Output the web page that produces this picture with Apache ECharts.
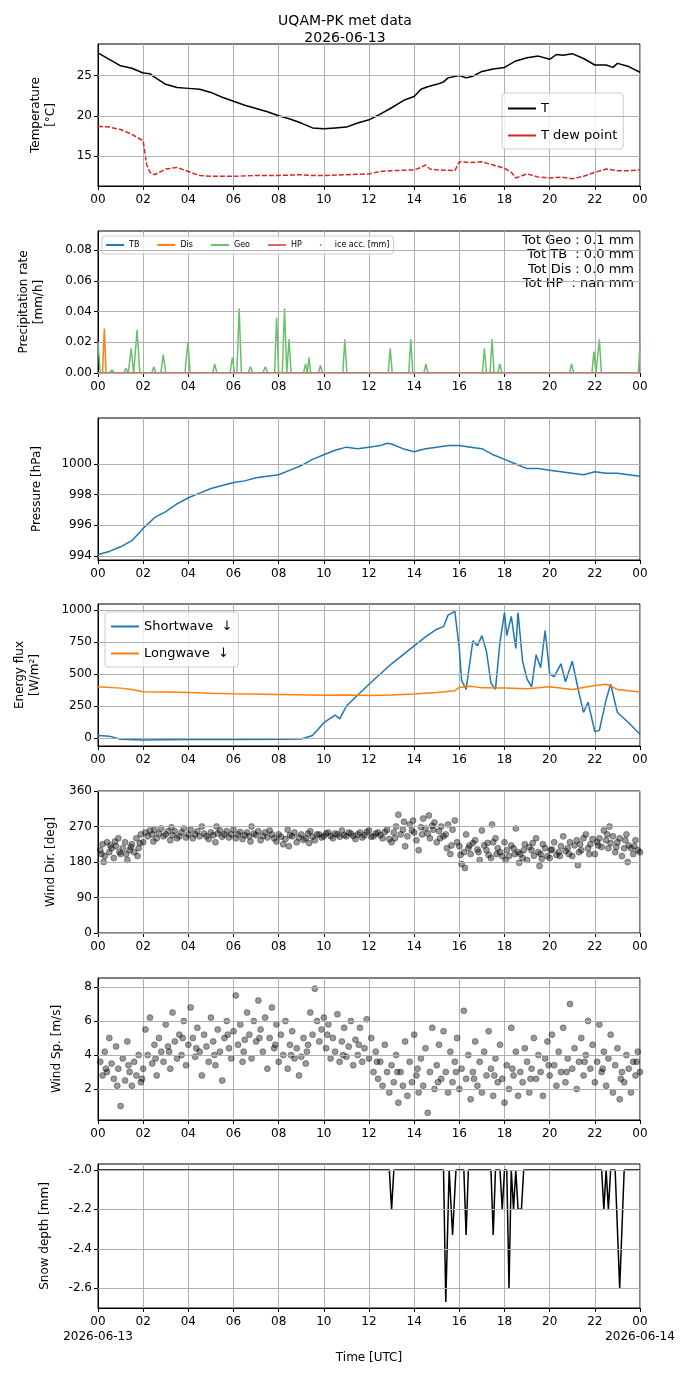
<!DOCTYPE html>
<html lang="en">
<head>
<meta charset="UTF-8">
<title>UQAM-PK met data</title>
<script src="https://cdn.jsdelivr.net/npm/echarts@6/dist/echarts.min.js"></script>
<style>
body{margin:0;padding:0;background:#fff}
#main{width:690px;height:1377px}
</style>
</head>
<body>
<div id="main"></div>
<script>
// ---- data (hours UTC since 2026-06-13 00:00) ----
var tempT = [[0,27.8],[0.5,27.0],[1,26.2],[1.5,25.9],[2,25.3],[2.3,25.2],[2.5,24.8],[3,23.9],[3.5,23.5],[4,23.4],[4.5,23.3],[5,22.9],[5.5,22.3],[6,21.8],[6.5,21.3],[7,20.9],[7.5,20.5],[8,20.0],[8.5,19.6],[9,19.1],[9.5,18.5],[10,18.4],[10.5,18.5],[11,18.6],[11.5,19.1],[12,19.5],[12.5,20.2],[13,21.0],[13.3,21.5],[13.6,22.0],[14,22.4],[14.3,23.3],[14.6,23.6],[15,23.9],[15.3,24.2],[15.5,24.7],[16,25.0],[16.3,24.7],[16.6,24.9],[17,25.5],[17.5,25.8],[18,26.0],[18.5,26.8],[19,27.2],[19.5,27.4],[20,27.0],[20.3,27.6],[20.6,27.5],[21,27.7],[21.5,27.1],[22,26.3],[22.5,26.3],[22.8,26.0],[23,26.5],[23.5,26.1],[24,25.4]];
var tempTd = [[0,18.7],[0.5,18.6],[1,18.3],[1.5,17.7],[2,16.9],[2.15,14.0],[2.3,13.0],[2.5,12.7],[3,13.4],[3.5,13.6],[4,13.1],[4.5,12.6],[5,12.5],[6,12.5],[7,12.6],[8,12.6],[9,12.7],[9.5,12.6],[10,12.6],[11,12.7],[12,12.8],[12.5,13.1],[13,13.2],[14,13.3],[14.3,13.6],[14.5,13.9],[14.7,13.4],[15,13.3],[15.8,13.2],[16,14.3],[16.5,14.2],[17,14.3],[17.5,13.9],[18,13.5],[18.3,13.0],[18.5,12.3],[19,12.8],[19.5,12.4],[20,12.3],[20.5,12.4],[21,12.2],[21.5,12.5],[22,13.0],[22.5,13.4],[23,13.2],[23.5,13.2],[24,13.3]];

var precipGeo = [[0,0.020],[0.1,0],[0.5,0],[0.62,0.002],[0.72,0],[1.14,0],[1.24,0.003],[1.34,0],[1.40,0],[1.47,0.016],[1.58,0],[1.64,0],[1.73,0.028],[1.85,0],[2.38,0],[2.47,0.004],[2.56,0],[2.78,0],[2.89,0.012],[3.0,0],[3.85,0],[3.98,0.020],[4.08,0],[5.08,0],[5.17,0.006],[5.26,0],[5.85,0],[5.95,0.010],[6.05,0],[6.15,0],[6.25,0.042],[6.35,0],[6.65,0],[6.75,0.004],[6.85,0],[7.3,0],[7.41,0.004],[7.52,0],[7.82,0],[7.91,0.036],[8.0,0],[8.16,0],[8.26,0.042],[8.36,0],[8.4,0],[8.46,0.022],[8.55,0],[9.1,0],[9.19,0.006],[9.27,0],[9.3,0],[9.34,0.010],[9.42,0],[9.76,0],[9.85,0.005],[9.94,0],[10.84,0],[10.93,0.022],[11.02,0],[12.85,0],[12.94,0.016],[13.03,0],[13.76,0],[13.85,0.022],[13.94,0],[14.43,0],[14.52,0.006],[14.61,0],[17.02,0],[17.11,0.016],[17.2,0],[17.36,0],[17.45,0.022],[17.54,0],[17.7,0],[17.79,0.006],[17.88,0],[19.38,0],[19.46,0.001],[19.55,0],[20.88,0],[20.97,0.006],[21.06,0],[21.87,0],[21.96,0.014],[22.05,0],[22.11,0],[22.2,0.022],[22.29,0],[23.93,0],[24,0.020]];
var precipDis = [[0,0],[0.2,0],[0.28,0.029],[0.36,0],[24,0]];
var precipTB = [[0,0],[24,0]];
var precipHP = [[0,0],[24,0]];

var pressure = [[0,994.1],[0.5,994.3],[1,994.6],[1.5,995.0],[2,995.8],[2.5,996.5],[3,996.9],[3.5,997.4],[4,997.8],[4.5,998.1],[5,998.4],[5.5,998.6],[6,998.8],[6.5,998.9],[7,999.1],[7.5,999.2],[8,999.3],[8.5,999.6],[9,999.9],[9.5,1000.3],[10,1000.6],[10.5,1000.9],[11,1001.1],[11.5,1001.0],[12,1001.1],[12.5,1001.2],[12.8,1001.35],[13,1001.3],[13.5,1001.0],[14,1000.8],[14.5,1001.0],[15,1001.1],[15.5,1001.2],[16,1001.2],[16.5,1001.1],[17,1001.0],[17.5,1000.6],[18,1000.3],[18.5,1000.0],[19,999.7],[19.5,999.7],[20,999.6],[20.5,999.5],[21,999.4],[21.5,999.3],[22,999.5],[22.5,999.4],[23,999.4],[23.5,999.3],[24,999.2]];

var shortwave = [[0,20],[0.5,15],[1,-10],[2,-15],[4,-12],[6,-12],[8,-10],[9,-8],[9.5,20],[10,120],[10.5,180],[10.7,150],[11,250],[12,420],[13,580],[14,720],[14.5,790],[15,850],[15.3,870],[15.5,960],[15.8,990],[16,700],[16.1,450],[16.3,380],[16.6,760],[16.8,720],[17,800],[17.2,680],[17.4,430],[17.6,380],[17.8,750],[18,980],[18.1,800],[18.3,950],[18.5,700],[18.6,980],[18.8,600],[19,460],[19.2,400],[19.4,650],[19.6,550],[19.8,840],[20,500],[20.2,480],[20.5,580],[20.7,440],[21,600],[21.3,350],[21.5,200],[21.7,280],[22,50],[22.2,60],[22.5,300],[22.7,420],[23,200],[23.5,120],[24,30]];
var longwave = [[0,400],[1,390],[1.5,380],[2,362],[3,360],[4,355],[5,350],[6,346],[8,340],[10,335],[11,336],[12,332],[13,336],[14,345],[15,356],[15.8,370],[16,395],[16.5,405],[17,392],[18,390],[19,385],[20,400],[21,380],[22,410],[22.5,420],[23,380],[24,360]];

var windDir = [[0.1,210],[0.2,225],[0.3,195],[0.4,230],[0.5,205],[0.6,215],[0.7,190],[0.8,220],[0.9,240],[1.0,200],[1.1,215],[1.2,230],[1.3,185],[1.4,210],[1.5,225],[1.6,205],[1.7,240],[1.8,215],[1.9,250],[2.0,230],[2.1,255],[2.2,245],[2.3,260],[2.4,250],[2.5,262],[2.6,240],[2.7,252],[2.8,265],[2.9,245],[3.0,250],[3.1,258],[3.2,235],[3.3,248],[3.4,258],[3.5,240],[3.6,245],[3.7,255],[3.8,265],[3.9,242],[4.0,250],[4.1,262],[4.2,240],[4.3,250],[4.4,258],[4.5,245],[4.6,270],[4.7,252],[4.8,245],[4.9,238],[5.0,255],[5.1,248],[5.2,230],[5.3,252],[5.4,260],[5.5,244],[5.6,250],[5.7,258],[5.8,242],[5.9,250],[6.0,262],[6.1,240],[6.2,250],[6.3,256],[6.4,238],[6.5,248],[6.6,255],[6.7,245],[6.8,270],[6.9,252],[7.0,248],[7.1,258],[7.2,235],[7.3,246],[7.4,255],[7.5,242],[7.6,260],[7.7,250],[7.8,240],[7.9,232],[8.0,250],[8.1,244],[8.2,225],[8.3,238],[8.4,262],[8.5,248],[8.6,245],[8.7,255],[8.8,230],[8.9,242],[9.0,250],[9.1,236],[9.2,240],[9.3,252],[9.4,258],[9.5,244],[9.6,235],[9.7,250],[9.8,250],[9.9,242],[10.0,245],[10.1,252],[10.2,255],[10.3,246],[10.4,240],[10.5,252],[10.6,250],[10.7,244],[10.8,260],[10.9,248],[11.0,245],[11.1,255],[11.2,252],[11.3,246],[11.4,238],[11.5,250],[11.6,255],[11.7,242],[11.8,248],[11.9,256],[12.0,260],[12.1,244],[12.2,245],[12.3,252],[12.4,255],[12.5,248],[12.6,240],[12.7,256],[12.8,262],[12.9,238],[13.0,230],[13.1,255],[13.2,270],[13.3,300],[13.4,250],[13.5,262],[13.6,220],[13.7,245],[13.8,275],[13.9,260],[14.0,255],[14.1,235],[14.2,210],[14.3,268],[14.4,290],[14.5,265],[14.6,252],[14.7,240],[14.8,272],[14.9,280],[15.0,230],[15.1,258],[15.2,270],[15.3,245],[15.4,250],[15.5,275],[15.6,200],[15.7,262],[15.8,285],[15.9,230],[16.0,220],[16.1,175],[16.2,205],[16.3,250],[16.4,215],[16.5,200],[16.6,228],[16.7,235],[16.8,212],[16.9,185],[17.0,260],[17.1,222],[17.2,210],[17.3,198],[17.4,190],[17.5,230],[17.6,240],[17.7,215],[17.8,205],[17.9,195],[18.0,230],[18.1,210],[18.2,195],[18.3,222],[18.4,215],[18.5,265],[18.6,205],[18.7,200],[18.8,190],[18.9,225],[19.0,185],[19.1,218],[19.2,210],[19.3,196],[19.4,240],[19.5,205],[19.6,200],[19.7,225],[19.8,215],[19.9,195],[20.0,190],[20.1,212],[20.2,230],[20.3,198],[20.4,205],[20.5,220],[20.6,245],[20.7,208],[20.8,215],[20.9,230],[21.0,195],[21.1,222],[21.2,235],[21.3,205],[21.4,210],[21.5,240],[21.6,250],[21.7,215],[21.8,225],[21.9,238],[22.0,200],[22.1,230],[22.2,240],[22.3,218],[22.4,260],[22.5,235],[22.6,215],[22.7,228],[22.8,245],[22.9,205],[23.0,230],[23.1,240],[23.2,195],[23.3,215],[23.4,250],[23.5,222],[23.6,215],[23.7,200],[23.8,235],[23.9,210],[24.0,205],
  [0.25,180],[0.75,232],[1.25,200],[1.75,195],[2.45,232],[3.25,268],[5.25,270],[6.75,232],[8.45,220],[9.35,228],[13.55,282],[14.65,298],[15.45,215],[16.25,165],[17.45,275],[18.65,178],[19.55,170],[21.25,172],[22.65,270],[23.45,180],
  [0.15,200],[0.55,222],[0.95,205],[1.45,218],[1.85,228],[13.15,240],[13.95,285],[14.35,250],[14.85,262],[15.15,240],[15.65,222],[16.05,198],[16.45,222],[16.85,205],[17.25,228],[17.65,200],[18.05,185],[18.45,200],[18.85,210],[19.25,228],[19.65,188],[20.05,210],[20.45,195],[20.85,200],[21.35,225],[21.75,200],[22.15,222],[22.55,250],[22.95,218],[23.35,235],[23.75,220]];

var windSp = [[0.1,3.6],[0.2,2.8],[0.3,4.2],[0.4,3.0],[0.5,5.0],[0.6,3.5],[0.7,2.6],[0.8,4.5],[0.9,3.2],[1.0,1.0],[1.1,3.8],[1.2,2.5],[1.3,4.8],[1.4,3.0],[1.5,2.2],[1.6,3.6],[1.7,2.8],[1.8,4.0],[1.9,2.4],[2.0,3.2],[2.1,5.5],[2.2,4.0],[2.3,6.2],[2.4,3.5],[2.5,4.6],[2.6,2.8],[2.7,5.0],[2.8,4.2],[2.9,3.6],[3.0,5.8],[3.1,4.5],[3.2,3.2],[3.3,6.5],[3.4,4.8],[3.5,3.8],[3.6,5.2],[3.7,4.0],[3.8,6.0],[3.9,3.4],[4.0,4.6],[4.1,6.8],[4.2,5.0],[4.3,3.9],[4.4,5.6],[4.5,4.2],[4.6,2.8],[4.7,5.2],[4.8,4.5],[4.9,3.6],[5.0,6.2],[5.1,4.8],[5.2,3.4],[5.3,5.5],[5.4,4.2],[5.5,2.5],[5.6,5.0],[5.7,6.0],[5.8,4.4],[5.9,3.8],[6.0,5.4],[6.1,7.5],[6.2,4.6],[6.3,5.8],[6.4,3.6],[6.5,4.9],[6.6,6.5],[6.7,5.2],[6.8,3.8],[6.9,6.0],[7.0,4.8],[7.1,7.2],[7.2,5.5],[7.3,4.2],[7.4,6.2],[7.5,3.2],[7.6,5.0],[7.7,6.8],[7.8,4.4],[7.9,5.8],[8.0,3.6],[8.1,5.2],[8.2,4.0],[8.3,6.0],[8.4,3.2],[8.5,4.6],[8.6,5.4],[8.7,3.8],[8.8,4.4],[8.9,2.8],[9.0,3.9],[9.1,5.0],[9.2,3.5],[9.3,4.6],[9.4,6.5],[9.5,5.2],[9.6,7.9],[9.7,6.0],[9.8,4.8],[9.9,5.5],[10.0,6.2],[10.1,4.4],[10.2,5.8],[10.3,3.8],[10.4,5.0],[10.5,4.2],[10.6,6.4],[10.7,3.6],[10.8,4.8],[10.9,5.6],[11.0,3.9],[11.1,4.5],[11.2,6.0],[11.3,3.4],[11.4,4.9],[11.5,4.0],[11.6,5.6],[11.7,3.6],[11.8,4.4],[11.9,6.1],[12.0,3.8],[12.1,5.0],[12.2,3.0],[12.3,4.2],[12.4,2.6],[12.5,3.6],[12.6,2.2],[12.7,4.6],[12.8,3.0],[12.9,1.8],[13.0,3.4],[13.1,2.4],[13.2,4.0],[13.3,1.2],[13.4,3.0],[13.5,2.2],[13.6,4.8],[13.7,1.6],[13.8,3.6],[13.9,2.4],[14.0,5.2],[14.1,2.8],[14.2,1.8],[14.3,3.8],[14.4,2.2],[14.5,4.4],[14.6,0.6],[14.7,3.0],[14.8,5.6],[14.9,2.0],[15.0,3.4],[15.1,4.6],[15.2,2.6],[15.3,5.4],[15.4,3.0],[15.5,1.8],[15.6,4.2],[15.7,2.4],[15.8,3.6],[15.9,5.0],[16.0,2.0],[16.1,3.2],[16.2,6.6],[16.3,2.6],[16.4,4.0],[16.5,1.4],[16.6,3.0],[16.7,4.8],[16.8,2.2],[16.9,3.6],[17.0,1.8],[17.1,4.2],[17.2,2.8],[17.3,5.4],[17.4,3.2],[17.5,1.6],[17.6,3.8],[17.7,2.4],[17.8,4.6],[17.9,2.6],[18.0,1.2],[18.1,3.4],[18.2,2.0],[18.3,5.6],[18.4,2.8],[18.5,4.2],[18.6,1.6],[18.7,3.0],[18.8,2.4],[18.9,4.4],[19.0,3.6],[19.1,1.8],[19.2,3.2],[19.3,5.0],[19.4,2.6],[19.5,4.0],[19.6,3.0],[19.7,1.6],[19.8,3.8],[19.9,4.8],[20.0,2.8],[20.1,5.2],[20.2,3.4],[20.3,2.2],[20.4,4.2],[20.5,3.0],[20.6,5.6],[20.7,2.4],[20.8,3.8],[20.9,7.0],[21.0,3.2],[21.1,4.4],[21.2,2.0],[21.3,3.6],[21.4,5.0],[21.5,2.8],[21.6,4.0],[21.7,6.0],[21.8,3.2],[21.9,4.6],[22.0,2.4],[22.1,3.6],[22.2,5.8],[22.3,3.0],[22.4,4.2],[22.5,2.2],[22.6,3.8],[22.7,5.2],[22.8,1.8],[22.9,3.4],[23.0,4.4],[23.1,1.4],[23.2,3.0],[23.3,2.4],[23.4,4.0],[23.5,3.2],[23.6,1.8],[23.7,3.6],[23.8,2.8],[23.9,4.2],[24.0,3.0],
  [0.35,3.2],[0.85,2.2],[1.35,3.4],[1.95,2.6],[2.55,3.8],[3.15,4.2],[3.75,5.0],[4.35,4.4],[5.15,4.0],[5.75,5.2],[6.45,4.2],[7.15,5.0],[7.85,4.6],[8.55,4.0],[9.25,4.2],[10.15,5.2],[10.85,4.0],[11.55,4.6],[12.35,3.6],[13.25,3.0],[14.15,3.2],[15.05,2.4],[15.85,3.0],[16.65,2.6],[17.55,2.8],[18.35,3.2],[19.15,2.6],[19.95,3.4],[20.75,3.0],[21.55,3.6],[22.35,3.2],[23.15,2.6],[23.85,3.6]];

var snowDepth = [[0,-2.0],[12.9,-2.0],[13.0,-2.2],[13.1,-2.0],[15.3,-2.0],[15.4,-2.67],[15.55,-2.0],[15.7,-2.33],[15.85,-2.0],[16.2,-2.0],[16.3,-2.33],[16.4,-2.0],[17.4,-2.0],[17.5,-2.33],[17.6,-2.0],[17.8,-2.0],[17.9,-2.2],[18.0,-2.0],[18.1,-2.0],[18.2,-2.6],[18.3,-2.0],[18.4,-2.2],[18.5,-2.0],[18.6,-2.2],[18.75,-2.2],[18.85,-2.0],[22.3,-2.0],[22.4,-2.2],[22.5,-2.0],[22.6,-2.2],[22.7,-2.0],[22.9,-2.0],[23.1,-2.6],[23.3,-2.0],[24,-2.0]];

var totText = ['Tot Geo : 0.1 mm', 'Tot TB  : 0.0 mm', 'Tot Dis : 0.0 mm', 'Tot HP  : nan mm'];

var yTicks = [[15, 20, 25], [0, 0.02, 0.04, 0.06, 0.08], [994, 996, 998, 1000], [0, 250, 500, 750, 1000],
              [0, 90, 180, 270, 360], [2, 4, 6, 8], [-2.6, -2.4, -2.2, -2.0]];

// ---- layout ----
var FONT = 'DejaVu Sans';
var tops = [44, 231, 418, 604, 791, 978, 1164];
var heights = [142, 142, 142, 142, 142, 142, 144];
var pad = function (v) { var h = Math.round(v) % 24; return (h < 10 ? '0' : '') + h; };

var grids = tops.map(function (t, i) {
    return {left: 98, width: 542, top: t, height: heights[i], show: true,
            borderColor: '#000', borderWidth: 1, backgroundColor: 'transparent'};
});

var xAxes = tops.map(function (t, i) {
    return {
        type: 'value', gridIndex: i, min: 0, max: 24, interval: 2,
        name: i === 6 ? 'Time [UTC]' : '', nameLocation: 'middle', nameGap: 44,
        nameTextStyle: {color: '#000', fontFamily: FONT, fontSize: 12},
        axisLine: {show: true, onZero: false, lineStyle: {color: '#000'}},
        axisTick: {show: true, length: 4, lineStyle: {color: '#000'}},
        axisLabel: {color: '#000', fontFamily: FONT, fontSize: 12, margin: 6, lineHeight: 15,
            formatter: function (v) {
                if (i === 6 && v === 0) return '00\n2026-06-13';
                if (i === 6 && v === 24) return '00\n2026-06-14';
                return pad(v);
            }},
        splitLine: {show: true, lineStyle: {color: '#b0b0b0', width: 1}}
    };
});

function yAx(i, min, max, name, fmt, gap) {
    return {
        type: 'value', gridIndex: i, min: min, max: max,
        name: name, nameLocation: 'middle', nameGap: gap, nameRotate: 90,
        nameTextStyle: {color: '#000', fontFamily: FONT, fontSize: 12, lineHeight: 15},
        axisLine: {show: true, lineStyle: {color: '#000'}},
        axisTick: {show: true, length: 4, customValues: yTicks[i], lineStyle: {color: '#000'}},
        axisLabel: {color: '#000', fontFamily: FONT, fontSize: 12, margin: 6,
            customValues: yTicks[i], formatter: fmt},
        splitLine: {show: false}
    };
}
var f0 = function (v) { return v.toFixed(0); };
var yAxes = [
    yAx(0, 11.3, 28.9, 'Temperature\n[°C]', f0, 40),
    yAx(1, 0, 0.0925, 'Precipitation rate\n[mm/h]', function (v) { return v.toFixed(2); }, 52),
    yAx(2, 993.74, 1003.0, 'Pressure [hPa]', f0, 54),
    yAx(3, -62, 1047, 'Energy flux\n[W/m²]', f0, 56),
    yAx(4, 0, 360, 'Wind Dir. [deg]', f0, 40),
    yAx(5, 0.18, 8.53, 'Wind Sp. [m/s]', f0, 34),
    yAx(6, -2.70, -1.97, 'Snow depth [mm]', function (v) { return v.toFixed(1); }, 46)
];

function line(name, idx, data, color, extra) {
    var s = {name: name, type: 'line', xAxisIndex: idx, yAxisIndex: idx, data: data,
             showSymbol: false, symbol: 'none', animation: false,
             lineStyle: {color: color, width: 1.5}, itemStyle: {color: color}};
    for (var k in extra) s[k] = extra[k];
    return s;
}
function scatter(idx, data) {
    return {type: 'scatter', xAxisIndex: idx, yAxisIndex: idx, data: data, symbolSize: 6, z: 3,
            animation: false, itemStyle: {color: 'rgba(0,0,0,0.5)', borderColor: 'rgba(0,0,0,0.7)', borderWidth: 0.6}};
}
// horizontal grid lines at the tick values, behind the data
var gridSeries = yTicks.map(function (ticks, i) {
    return {type: 'line', xAxisIndex: i, yAxisIndex: i, data: [], silent: true, z: 1,
            markLine: {silent: true, symbol: 'none', label: {show: false}, animation: false,
                       lineStyle: {color: '#b0b0b0', width: 1, type: 'solid'},
                       data: ticks.map(function (v) { return {yAxis: v}; })}};
});

var series = gridSeries.concat([
    line('T', 0, tempT, '#000'),
    line('T dew point', 0, tempTd, '#d62728', {lineStyle: {color: '#d62728', width: 1.5, type: [5, 2]}}),
    line('TB', 1, precipTB, '#1f77b4'),
    line('Dis', 1, precipDis, '#ff7f0e'),
    line('Geo', 1, precipGeo, '#6abf6a'),
    line('HP', 1, precipHP, '#e06666'),
    {name: 'ice acc. [mm]', type: 'scatter', xAxisIndex: 1, yAxisIndex: 1, data: [], itemStyle: {color: '#9467bd'}},
    line('Pressure', 2, pressure, '#1f77b4'),
    line('Shortwave  ↓', 3, shortwave, '#1f77b4'),
    line('Longwave  ↓', 3, longwave, '#ff7f0e'),
    scatter(4, windDir),
    scatter(5, windSp),
    line('Snow', 6, snowDepth, '#000')
]);

var legendBase = {backgroundColor: 'rgba(255,255,255,0.8)', borderColor: '#ccc', borderWidth: 1,
                  borderRadius: 3, textStyle: {color: '#000', fontFamily: FONT}};
function legend(o) { var r = {}; for (var k in legendBase) r[k] = legendBase[k]; for (var j in o) r[j] = o[j]; return r; }
function lineItems(names) { return names.map(function (n) { return {name: n, icon: 'rect'}; }); }

var option = {
    backgroundColor: '#fff',
    animation: false,
    title: {text: 'UQAM-PK met data\n2026-06-13', left: 'center', top: 8,
            textStyle: {fontFamily: FONT, fontSize: 14, fontWeight: 'normal', color: '#000', lineHeight: 17}},
    grid: grids, xAxis: xAxes, yAxis: yAxes, series: series,
    legend: [
        legend({data: lineItems(['T', 'T dew point']), orient: 'vertical', left: 502, top: 93, itemWidth: 28, itemHeight: 2,
                itemGap: 14, padding: [9, 6, 7, 6], textStyle: {fontSize: 13, color: '#000', fontFamily: FONT}}),
        legend({data: lineItems(['TB', 'Dis', 'Geo', 'HP']).concat([{name: 'ice acc. [mm]', icon: 'circle'}]),
                orient: 'horizontal', left: 102, top: 236,
                itemWidth: 18, itemHeight: 2, itemGap: 18, padding: [5, 4, 5, 4],
                textStyle: {fontSize: 8, color: '#000', fontFamily: FONT}}),
        legend({data: lineItems(['Shortwave  ↓', 'Longwave  ↓']), orient: 'vertical', left: 105, top: 612, itemWidth: 28, itemHeight: 2,
                itemGap: 14, padding: [8, 6, 7, 6], textStyle: {fontSize: 13, color: '#000', fontFamily: FONT}})
    ],
    graphic: totText.map(function (t, i) {
        return {type: 'text', right: 56, top: 234 + i * 14.5,
                style: {text: t, fontFamily: FONT, fontSize: 13, fill: '#000', textAlign: 'right'}};
    })
};

var chart = echarts.init(document.getElementById('main'), null, {renderer: 'canvas'});
chart.setOption(option);
</script>
</body>
</html>
